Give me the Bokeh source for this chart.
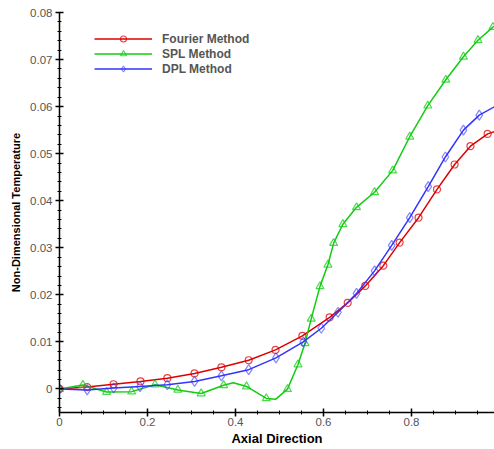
from bokeh.plotting import figure
from bokeh.models import Range1d, SingleIntervalTicker, CustomJSTickFormatter, Legend, LegendItem
from bokeh.embed import file_html
from bokeh.resources import INLINE

# ---- data ----
fourier_x = [0.0, 0.063, 0.123, 0.184, 0.245, 0.307, 0.368, 0.430, 0.491, 0.552, 0.614,
             0.655, 0.695, 0.736, 0.773, 0.816, 0.858, 0.898, 0.934, 0.973]
fourier_y = [0.0, 0.0004, 0.0010, 0.0016, 0.0023, 0.0033, 0.0046, 0.0061, 0.0083, 0.0113, 0.0152,
             0.0183, 0.0219, 0.0262, 0.0311, 0.0364, 0.0424, 0.0477, 0.0516, 0.0542]
fourier_end_x = [0.989]
fourier_end_y = [0.0547]

spl_x = [0.0, 0.053, 0.107, 0.164, 0.217, 0.269, 0.322, 0.373, 0.425, 0.470, 0.518,
         0.542, 0.558, 0.572, 0.592, 0.610, 0.623, 0.644, 0.675, 0.716, 0.757, 0.796,
         0.837, 0.878, 0.918, 0.951, 0.985]
spl_y = [0.0, 0.00085, -0.00064, -0.00057, 0.00091, -0.0002, -0.00096, 0.00079, 0.00053, -0.0020, -0.00004,
         0.0052, 0.0097, 0.0149, 0.0218, 0.0264, 0.0310, 0.0350, 0.0386, 0.0418, 0.0464, 0.0536,
         0.0602, 0.0657, 0.0706, 0.0741, 0.0769]
spl_extra_x = [0.395, 0.491, 0.989]
spl_extra_y = [0.00134, -0.0022, 0.0771]

dpl_x = [0.0, 0.063, 0.123, 0.183, 0.245, 0.307, 0.368, 0.430, 0.492, 0.554, 0.595,
         0.633, 0.675, 0.716, 0.755, 0.796, 0.838, 0.877, 0.918, 0.954]
dpl_y = [0.0, -0.0002, 0.0002, 0.0005, 0.0009, 0.0016, 0.0028, 0.0041, 0.0066, 0.0100, 0.0129,
         0.0163, 0.0203, 0.0251, 0.0305, 0.0364, 0.0430, 0.0493, 0.0550, 0.0582]
dpl_end_x = [0.989]
dpl_end_y = [0.0600]

names = ["Fourier Method", "SPL Method", "DPL Method"]
colors = ["#dd0000", "#11cc11", "#3333ff"]

p = figure(width=494, height=449, output_backend="svg", toolbar_location=None,
           x_range=Range1d(0, 0.9886), y_range=Range1d(-0.005, 0.08),
           min_border_left=59, min_border_right=0, min_border_top=12, min_border_bottom=37,
           background_fill_color="white", border_fill_color="white")
p.outline_line_color = None
p.xgrid.visible = False
p.ygrid.visible = False

def merged(xs, ys, ex, ey):
    pts = sorted(zip(list(xs) + list(ex), list(ys) + list(ey)))
    return [a for a, b in pts], [b for a, b in pts]

fx, fy = merged(fourier_x, fourier_y, fourier_end_x, fourier_end_y)
sx, sy = merged(spl_x, spl_y, spl_extra_x, spl_extra_y)
dx, dy = merged(dpl_x, dpl_y, dpl_end_x, dpl_end_y)

l1 = p.line(fx, fy, line_color=colors[0], line_width=1.5)
m1 = p.scatter(fourier_x, fourier_y, marker="circle", size=7, line_color=colors[0],
               fill_alpha=0, line_alpha=0.75, line_width=1.2)
l2 = p.line(sx, sy, line_color=colors[1], line_width=1.5)
m2 = p.scatter(spl_x, spl_y, marker="triangle", size=8, line_color=colors[1],
               fill_alpha=0, line_alpha=0.75, line_width=1.2)
l3 = p.line(dx, dy, line_color=colors[2], line_width=1.5)
m3 = p.scatter(dpl_x, dpl_y, marker="diamond", size=10, line_color=colors[2],
               fill_alpha=0, line_alpha=0.6, line_width=1.2)

legend = Legend(items=[LegendItem(label=names[0], renderers=[l1, m1]),
                       LegendItem(label=names[1], renderers=[l2, m2]),
                       LegendItem(label=names[2], renderers=[l3, m3])],
                location=(35, 336), orientation="vertical",
                glyph_width=58, glyph_height=15, label_height=15, spacing=0,
                padding=0, margin=0, label_standoff=10,
                border_line_color=None, background_fill_alpha=0,
                label_text_font="Liberation Sans", label_text_font_size="12px",
                label_text_font_style="bold", label_text_color="#555555")
p.add_layout(legend, "center")

# axes
p.xaxis.ticker = SingleIntervalTicker(interval=0.2, num_minor_ticks=4)
p.yaxis.ticker = SingleIntervalTicker(interval=0.01, num_minor_ticks=5)
p.xaxis.formatter = CustomJSTickFormatter(code="return Math.abs(tick) < 1e-9 ? '0' : tick.toFixed(1);")
p.yaxis.formatter = CustomJSTickFormatter(code="return Math.abs(tick) < 1e-9 ? '0' : tick.toFixed(2);")
for ax in (p.xaxis[0], p.yaxis[0]):
    ax.axis_line_color = "black"
    ax.axis_line_width = 1.5
    ax.major_tick_line_color = "black"
    ax.major_tick_line_width = 1.5
    ax.minor_tick_line_color = "black"
    ax.major_tick_in = 4
    ax.major_tick_out = 4
    ax.minor_tick_in = 2
    ax.minor_tick_out = 2
    ax.major_label_text_font = "Liberation Sans"
    ax.major_label_text_font_size = "11.5px"
    ax.major_label_text_color = "#555555"
    ax.axis_label_text_font = "Liberation Sans"
    ax.axis_label_text_font_style = "bold"
    ax.axis_label_text_color = "black"
p.xaxis.axis_label = "Axial Direction"
p.yaxis.axis_label = "Non-Dimensional Temperature"
p.xaxis.axis_label_text_font_size = "13px"
p.yaxis.axis_label_text_font_size = "11px"
p.xaxis.major_label_standoff = 1
p.xaxis.axis_label_standoff = 2
p.yaxis.major_label_standoff = 3
p.yaxis.axis_label_standoff = 5

open("out.html", "w").write(file_html(p, INLINE))
